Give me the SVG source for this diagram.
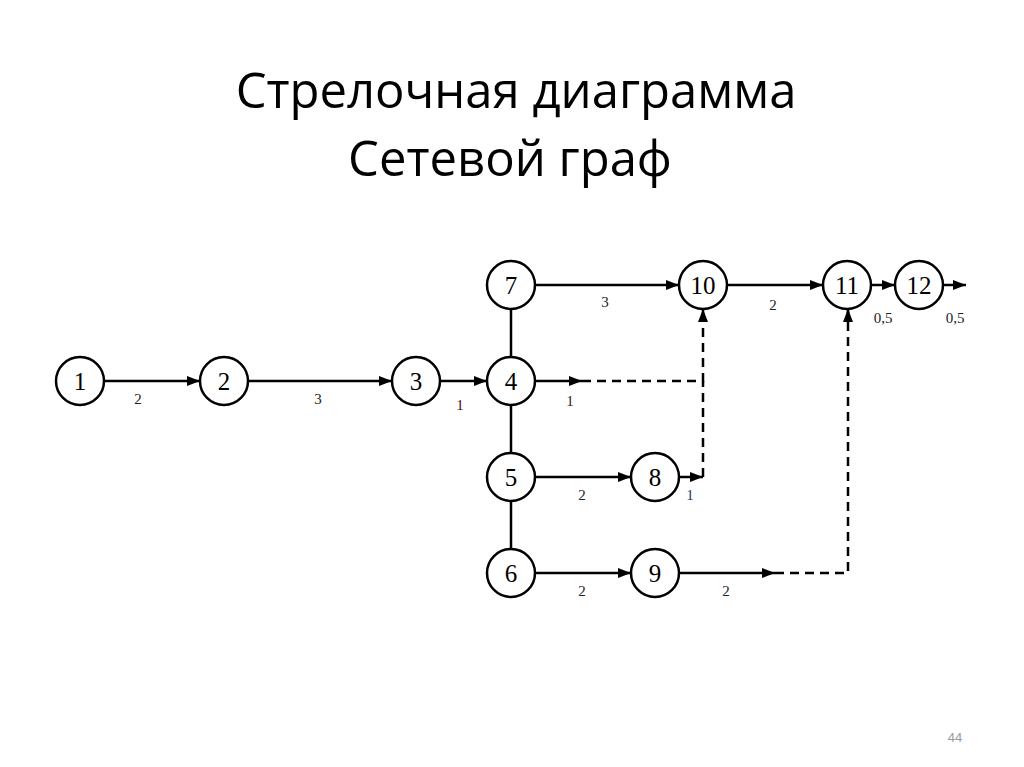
<svg xmlns="http://www.w3.org/2000/svg" width="1024" height="767" viewBox="0 0 1024 767">
<style>
.title{font-family:"Open Sans","Liberation Sans",sans-serif;font-size:49px;fill:#000;text-anchor:middle}
.node circle{fill:#fff;stroke:#000;stroke-width:2.5}
.node text{font-family:"Liberation Serif",serif;font-size:25px;fill:#000;text-anchor:middle}
.lbl{font-family:"Liberation Serif",serif;font-size:15px;fill:#222;text-anchor:middle}
.e{stroke:#000;stroke-width:2.5;fill:none}
.d{stroke:#000;stroke-width:2.5;fill:none;stroke-dasharray:9,6}
.pg{font-family:"Liberation Sans",sans-serif;font-size:13px;fill:#999;text-anchor:middle}
</style>
<defs>
<marker id="ah" viewBox="0 0 13 10" refX="13" refY="5" markerWidth="13" markerHeight="10" markerUnits="userSpaceOnUse" orient="auto">
<path d="M0,0 L13,5 L0,10 Z" fill="#000"/>
</marker>
</defs>
<rect width="1024" height="767" fill="#fff"/>
<text class="title" x="516" y="108">Стрелочная диаграмма</text>
<text class="title" x="510" y="176">Сетевой граф</text>
<g id="connectors">
<line class="e" x1="105" y1="381" x2="200" y2="381" marker-end="url(#ah)"/>
<line class="e" x1="248" y1="381" x2="392" y2="381" marker-end="url(#ah)"/>
<line class="e" x1="440" y1="381" x2="487" y2="381" marker-end="url(#ah)"/>
<line class="e" x1="511" y1="309" x2="511" y2="357"/>
<line class="e" x1="511" y1="405" x2="511" y2="453"/>
<line class="e" x1="511" y1="501" x2="511" y2="549"/>
<line class="e" x1="535" y1="285" x2="679" y2="285" marker-end="url(#ah)"/>
<line class="e" x1="727" y1="285" x2="823" y2="285" marker-end="url(#ah)"/>
<line class="e" x1="871" y1="285" x2="895" y2="285" marker-end="url(#ah)"/>
<line class="e" x1="943" y1="285" x2="966" y2="285" marker-end="url(#ah)"/>
<line class="e" x1="535" y1="381" x2="582" y2="381" marker-end="url(#ah)"/>
<path class="d" d="M582,381 H703 V311"/>
<line class="e" x1="703" y1="318" x2="703" y2="309" marker-end="url(#ah)"/>
<line class="e" x1="535" y1="477" x2="631" y2="477" marker-end="url(#ah)"/>
<line class="e" x1="679" y1="477" x2="703" y2="477" marker-end="url(#ah)"/>
<path class="d" d="M703,477 V381"/>
<line class="e" x1="535" y1="573" x2="631" y2="573" marker-end="url(#ah)"/>
<line class="e" x1="679" y1="573" x2="775" y2="573" marker-end="url(#ah)"/>
<path class="d" d="M775,573 H848 V311"/>
<line class="e" x1="848" y1="318" x2="848" y2="309" marker-end="url(#ah)"/>
</g>
<g id="labels">
<text class="lbl" x="138" y="404">2</text>
<text class="lbl" x="318" y="404">3</text>
<text class="lbl" x="460" y="410" style="fill:#4a1010">1</text>
<text class="lbl" x="605" y="307">3</text>
<text class="lbl" x="773" y="310">2</text>
<text class="lbl" x="883" y="323">0,5</text>
<text class="lbl" x="955" y="323">0,5</text>
<text class="lbl" x="570" y="406">1</text>
<text class="lbl" x="582" y="500">2</text>
<text class="lbl" x="690" y="500" style="fill:#1a3a5a">1</text>
<text class="lbl" x="582" y="596">2</text>
<text class="lbl" x="726" y="596">2</text>
</g>
<g id="n1" class="node"><circle cx="80" cy="381" r="24"/><text x="80" y="390">1</text></g>
<g id="n2" class="node"><circle cx="224" cy="381" r="24"/><text x="224" y="390">2</text></g>
<g id="n3" class="node"><circle cx="416" cy="381" r="24"/><text x="416" y="390">3</text></g>
<g id="n4" class="node"><circle cx="511" cy="381" r="24"/><text x="511" y="390">4</text></g>
<g id="n5" class="node"><circle cx="511" cy="477" r="24"/><text x="511" y="486">5</text></g>
<g id="n6" class="node"><circle cx="511" cy="573" r="24"/><text x="511" y="582">6</text></g>
<g id="n7" class="node"><circle cx="511" cy="285" r="24"/><text x="511" y="294">7</text></g>
<g id="n8" class="node"><circle cx="655" cy="477" r="24"/><text x="655" y="486">8</text></g>
<g id="n9" class="node"><circle cx="655" cy="573" r="24"/><text x="655" y="582">9</text></g>
<g id="n10" class="node"><circle cx="703" cy="285" r="24"/><text x="703" y="294">10</text></g>
<g id="n11" class="node"><circle cx="847" cy="285" r="24"/><text x="847" y="294">11</text></g>
<g id="n12" class="node"><circle cx="919" cy="285" r="24"/><text x="919" y="294">12</text></g>
<text class="pg" x="955" y="742">44</text>
</svg>
